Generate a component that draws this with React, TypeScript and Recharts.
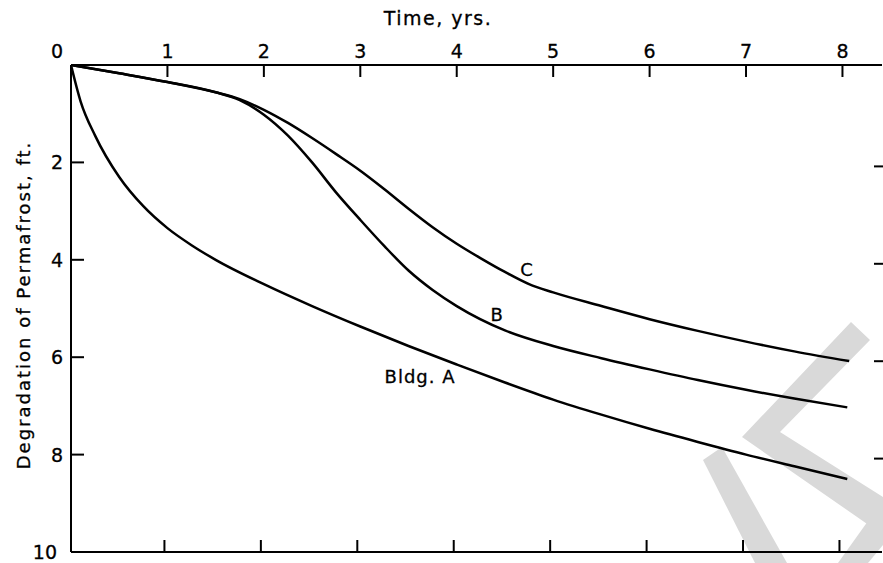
import { LineChart, Line, XAxis, YAxis, ReferenceDot } from 'recharts';

// Time (yrs) and degradation depth (ft), one pair of arrays per building
const yearsA = [0, 0.1, 0.25, 0.5, 0.75, 1, 1.25, 1.5, 2, 2.5, 3, 3.5, 4, 4.5, 5, 5.5, 6, 6.5, 7, 7.5, 8.05];
const depthA = [0, 0.75, 1.45, 2.3, 2.9, 3.35, 3.7, 4.0, 4.5, 4.95, 5.37, 5.77, 6.15, 6.52, 6.87, 7.18, 7.47, 7.74, 8.0, 8.24, 8.5];

const yearsB = [0, 0.5, 1, 1.5, 1.75, 2, 2.25, 2.5, 2.75, 3, 3.25, 3.5, 3.75, 4, 4.5, 5, 5.5, 6, 6.5, 7, 7.5, 8.05];
const depthB = [0, 0.17, 0.35, 0.56, 0.72, 1.02, 1.45, 2.0, 2.62, 3.18, 3.72, 4.22, 4.62, 4.95, 5.45, 5.77, 6.02, 6.25, 6.47, 6.67, 6.85, 7.03];

const yearsC = [0, 0.5, 1, 1.5, 1.75, 2, 2.25, 2.5, 2.75, 3, 3.25, 3.5, 3.75, 4, 4.25, 4.5, 4.75, 5, 5.5, 6, 6.5, 7, 7.5, 8.07];
const depthC = [0, 0.17, 0.35, 0.56, 0.7, 0.92, 1.19, 1.5, 1.83, 2.17, 2.55, 2.95, 3.33, 3.67, 3.97, 4.25, 4.5, 4.67, 4.95, 5.22, 5.46, 5.68, 5.88, 6.08];

const timeTicks = [0, 1, 2, 3, 4, 5, 6, 7, 8];
const depthTicks = [0, 2, 4, 6, 8, 10];

// curve labels: [text, year, depth]
const curveLabels: [string, number, number][] = [
  ['C', 4.73, 4.21],
  ['B', 4.42, 5.13],
  ['Bldg. A', 3.62, 6.39],
];

const toRows = (xs: number[], ys: number[]) => xs.map((x, i) => ({ x, y: ys[i] }));

const FONT = '"DejaVu Sans", sans-serif';
const INK = '#000';

const TopTick = (props: any) => {
  const { x, y, payload } = props;
  const v = payload.value;
  return (
    <g>
      {v !== 0 && <line x1={x} y1={y} x2={x} y2={y + 12} stroke={INK} strokeWidth={2} />}
      <text
        x={v === 0 ? x - 14 : x}
        y={y - 7}
        textAnchor="middle"
        fontSize={19}
        fontFamily={FONT}
        fill={INK}
        stroke={INK}
        strokeWidth={0.3}
      >
        {v}
      </text>
    </g>
  );
};

const BottomTick = (props: any) => {
  const { x, y } = props;
  return <line x1={x - 3} y1={y} x2={x - 3} y2={y - 12} stroke={INK} strokeWidth={2} />;
};

const LeftTick = (props: any) => {
  const { x, y, payload } = props;
  const v = payload.value;
  if (v === 0) return <g />;
  return (
    <g>
      {v !== 10 && <line x1={x} y1={y} x2={x + 13} y2={y} stroke={INK} strokeWidth={2} />}
      <text
        x={v === 10 ? x - 14 : x - 8}
        y={y + 7}
        textAnchor="end"
        fontSize={19}
        fontFamily={FONT}
        fill={INK}
        stroke={INK}
        strokeWidth={0.3}
      >
        {v}
      </text>
    </g>
  );
};

const RightTick = (props: any) => {
  const { x, y } = props;
  return <line x1={x - 8} y1={y + 4} x2={x + 1} y2={y + 4} stroke={INK} strokeWidth={2} />;
};

export default function App() {
  const seriesList = [toRows(yearsA, depthA), toRows(yearsB, depthB), toRows(yearsC, depthC)];

  return (
    <div style={{ position: 'absolute', left: 0, top: 0, width: 883, height: 563, background: '#fff' }}>
      <svg width={883} height={563} style={{ position: 'absolute', left: 0, top: 0 }}>
        {/* scan watermark */}
        <polygon points="703,460 722,447 787,563 755,563" fill="#d9d9d9" />
        <polygon points="851,322 870,340 780,432 883,497 883,535 742,437" fill="#d9d9d9" />
        <polygon points="838,563 883,500 883,545 868,563" fill="#d9d9d9" />
        <text
          x={438}
          y={25}
          textAnchor="middle"
          fontSize={19}
          fontFamily={FONT}
          letterSpacing={1.5}
          fill={INK}
          stroke={INK}
          strokeWidth={0.3}
        >
          Time,  yrs.
        </text>
        <text
          x={0}
          y={0}
          transform="translate(30,305) rotate(-90)"
          textAnchor="middle"
          fontSize={18}
          fontFamily={FONT}
          letterSpacing={2}
          fill={INK}
          stroke={INK}
          strokeWidth={0.3}
        >
          Degradation of Permafrost, ft.
        </text>
      </svg>
      <div style={{ position: 'absolute', left: 0, top: 0 }}>
        <LineChart width={883} height={563} margin={{ top: 45, right: 0, bottom: 10, left: 51 }}>
          <XAxis
            xAxisId="top"
            type="number"
            dataKey="x"
            orientation="top"
            domain={[0, 8.41]}
            ticks={timeTicks}
            height={20}
            tickSize={0}
            tickMargin={0}
            tickLine={false}
            axisLine={{ stroke: INK, strokeWidth: 2 }}
            tick={<TopTick />}
            allowDataOverflow
          />
          <XAxis
            xAxisId="bottom"
            type="number"
            dataKey="x"
            orientation="bottom"
            domain={[0, 8.41]}
            ticks={timeTicks.slice(1)}
            height={1}
            tickSize={0}
            tickMargin={0}
            tickLine={false}
            axisLine={{ stroke: INK, strokeWidth: 2 }}
            tick={<BottomTick />}
            allowDataOverflow
          />
          <YAxis
            yAxisId="left"
            type="number"
            dataKey="y"
            domain={[0, 10]}
            reversed
            ticks={depthTicks}
            width={20}
            tickSize={0}
            tickMargin={0}
            tickLine={false}
            axisLine={{ stroke: INK, strokeWidth: 2 }}
            tick={<LeftTick />}
            allowDataOverflow
          />
          <YAxis
            yAxisId="right"
            orientation="right"
            type="number"
            domain={[0, 10]}
            reversed
            ticks={depthTicks.slice(1, 5)}
            width={1}
            tickSize={0}
            tickMargin={0}
            tickLine={false}
            axisLine={false}
            tick={<RightTick />}
            allowDataOverflow
          />
          {seriesList.map((rows, i) => (
            <Line
              key={i}
              xAxisId="top"
              yAxisId="left"
              data={rows}
              dataKey="y"
              type="monotone"
              stroke={INK}
              strokeWidth={2.5}
              dot={false}
              activeDot={false}
              isAnimationActive={false}
            />
          ))}
          {curveLabels.map(([text, x, y]) => (
            <ReferenceDot
              key={text}
              xAxisId="top"
              yAxisId="left"
              x={x}
              y={y}
              r={0}
              fill="none"
              stroke="none"
              label={{
                value: text,
                position: 'center',
                fontSize: 18,
                fontFamily: FONT,
                fill: INK,
                stroke: INK,
                strokeWidth: 0.3,
                letterSpacing: 1,
              }}
            />
          ))}
        </LineChart>
      </div>
    </div>
  );
}
